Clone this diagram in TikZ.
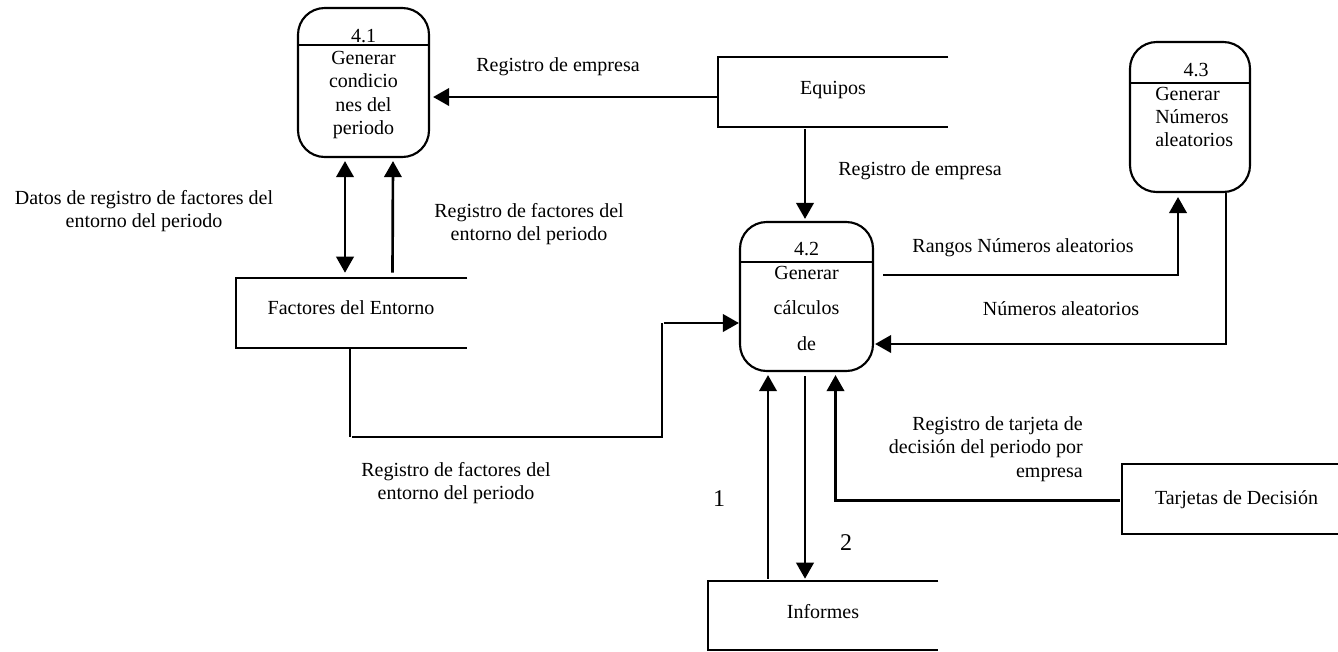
\documentclass[tikz,border=0pt]{standalone}
\usepackage{fontspec}
\setmainfont{Liberation Serif}
\usetikzlibrary{calc,arrows.meta}
\tikzset{
  txt/.style={inner sep=0pt,align=center,font=\fontsize{15}{17.5}\selectfont},
  txtr/.style={inner sep=0pt,align=right,font=\fontsize{15}{17.5}\selectfont},
  txtl/.style={inner sep=0pt,align=left,font=\fontsize{15}{17.5}\selectfont},
  num/.style={inner sep=0pt,font=\fontsize{18}{20}\selectfont},
  proc/.style={draw,line width=1.6pt,rounded corners=20,inner sep=0pt,minimum width=#1*0.75pt},
  store/.style={inner sep=0pt},
  edge/.style={draw,line width=2pt},
  flow/.style={edge,-{Triangle[length=12pt,width=13pt]}},
  flow2/.style={edge,{Triangle[length=12pt,width=13pt]}-{Triangle[length=12pt,width=13pt]}},
}
\newcommand{\storebox}[5]{%name x1 y1 x2 y2
  \node[store,minimum width={(#4-#2)*0.75pt},minimum height={(#5-#3)*0.75pt}] (#1) at ({(#2+#4)/2},{(#3+#5)/2}) {};
  \draw[line width=1.4pt] (#1.north east) -- (#1.north west) -- (#1.south west) -- (#1.south east);
}
\begin{document}
\begin{tikzpicture}[x=0.75pt,y=-0.75pt]
\useasboundingbox (0,0) rectangle (1338,651);
% processes
\node[proc=131,minimum height=149*0.75pt] (p1) at (363.5,82.5) {};
\node[proc=133,minimum height=149*0.75pt] (p2) at (806.5,296.5) {};
\node[proc=120,minimum height=150*0.75pt] (p3) at (1190,117) {};
\coordinate (d1) at (298,45); \coordinate (d2) at (740,262); \coordinate (d3) at (1130,83);
\draw[line width=1.6pt] (d1) -- (d1 -| p1.east);
\draw[line width=1.6pt] (d2) -- (d2 -| p2.east);
\draw[line width=1.6pt] (d3) -- (d3 -| p3.east);
\node[txt] (t1) at (363.5,36) {4.1};
\node[txt,anchor=north] (b1) at (363.5,51) {Generar\\condicio\\nes del\\periodo};
\node[txt] (t2) at (806.5,249) {4.2};
\node[txt,font=\fontsize{15}{26.5}\selectfont,anchor=north] (b2) at (806.5,266) {Generar\\cálculos\\de};
\node[txt] (t3) at (1196,70) {4.3};
\node[txtl,anchor=north west] (b3) at (1155,86.5) {Generar\\Números\\aleatorios};
% stores
\storebox{eq}{718}{57}{948}{127}
\storebox{fa}{236}{278}{467}{348}
\storebox{inf}{708}{581}{938}{650}
\storebox{ta}{1122}{464}{1338}{534}
\node[txt,anchor=base] (teq) at (833,94) {Equipos};
\node[txt,anchor=base] (tfa) at (351,314.5) {Factores del Entorno};
\node[txt,anchor=base] (tin) at (823,618.5) {Informes};
\node[txt,anchor=base] (tta) at (1236.5,504) {Tarjetas de Decisión};
% connectors
\draw[flow] ($(eq.west)+(-1,5)$) -- ($(p1.east)+(3,14.5)$);
\draw[flow] ($(eq.south)+(-28,2)$) -- ($(p2.north)+(-1.5,-2)$);
\draw[flow2] ($(p1.south)+(-18.5,3)$) -- ($(fa.north)+(-6.5,-5)$);
\draw[flow] ($(fa.north)+(41,-5)$) -- ($(p1.south)+(29.5,3)$);
\coordinate (c1) at (350,437); \coordinate (c2) at (352,437); \coordinate (c3) at (662,437); \coordinate (c4) at (664,323);
\draw[edge] (c1 |- fa.south) -- (c1);
\draw[edge] (c2) -- (c3) -- (c3 |- c4);
\draw[flow] (c4) -- (c4 -| p2.west);
\coordinate (c5) at (883,275); \coordinate (c6) at (1178,197);
\draw[flow] (c5) -| (c6);
\coordinate (c7) at (1226,344);
\draw[flow] (c7 |- p3.south) -- (c7) -- ($(c7 -| p2.east)+(1,0)$);
\draw[flow] ($(inf.north)+(-55,-2)$) -- ($(p2.south)+(-38.5,3)$);
\draw[flow] ($(p2.south)+(-1.5,4)$) -- ($(inf.north)+(-18,-2)$);
\coordinate (c8) at (835.5,500.5);
\draw[flow] ($(c8 -| ta.west)+(-2,0)$) -- (c8) -- ($(p2.south)+(29,3)$);
% labels
\node[txt] (l1) at (558,67) {Registro de empresa};
\node[txt] (l2) at (920,170.5) {Registro de empresa};
\node[txt] (l3) at (144,211) {Datos de registro de factores del\\entorno del periodo};
\node[txt] (l4) at (529,224) {Registro de factores del\\entorno del periodo};
\node[txt] (l5) at (1023,248) {Rangos Números aleatorios};
\node[txt] (l6) at (1061,308.5) {Números aleatorios};
\node[txt] (l7) at (456,483) {Registro de factores del\\entorno del periodo};
\node[txtr,anchor=east] (l8) at (1083,449) {Registro de tarjeta de\\decisión del periodo por\\empresa};
\node[num] (n1) at (719,499) {1};
\node[num] (n2) at (846,543) {2};
\end{tikzpicture}
\end{document}
